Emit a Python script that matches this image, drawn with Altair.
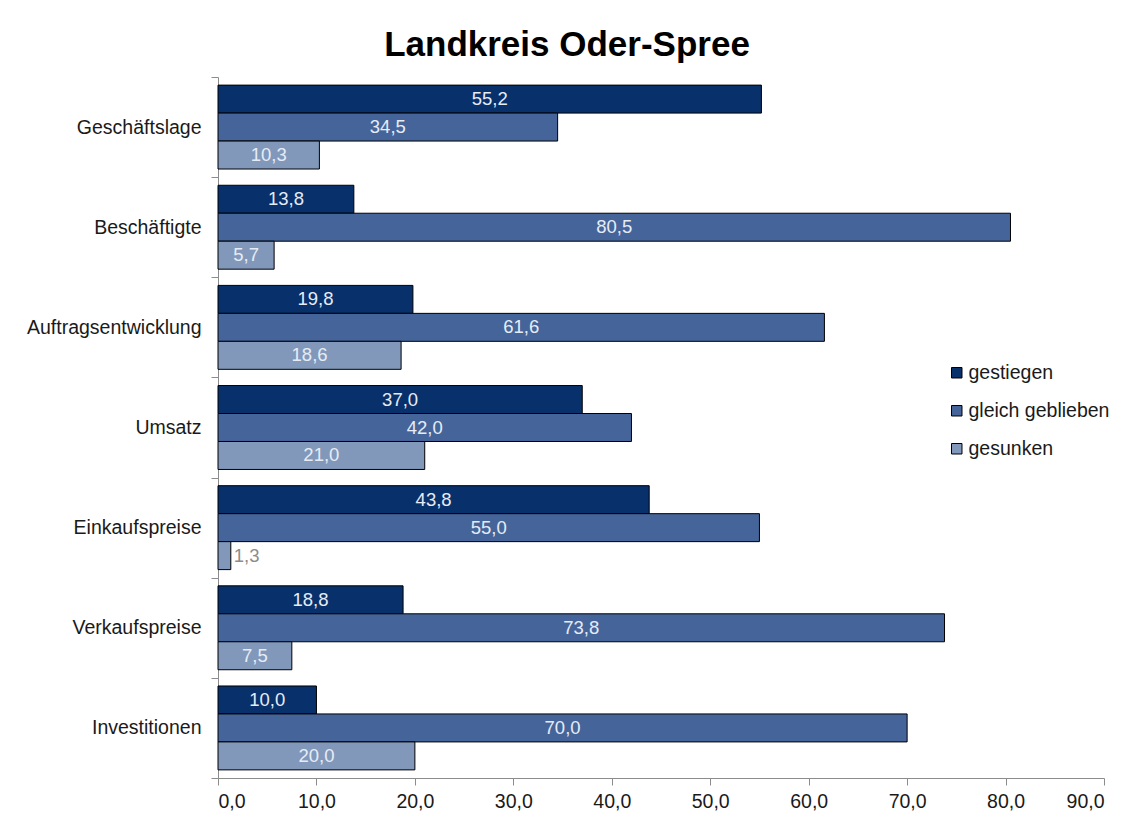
import altair as alt
import pandas as pd

categories = ["Geschäftslage", "Beschäftigte", "Auftragsentwicklung", "Umsatz",
              "Einkaufspreise", "Verkaufspreise", "Investitionen"]
series = ["gestiegen", "gleich geblieben", "gesunken"]
gestiegen = [55.2, 13.8, 19.8, 37.0, 43.8, 18.8, 10.0]
gleich = [34.5, 80.5, 61.6, 42.0, 55.0, 73.8, 70.0]
gesunken = [10.3, 5.7, 18.6, 21.0, 1.3, 7.5, 20.0]
colors = ["#08306b", "#45649a", "#8198bb"]

rows = []
for i, c in enumerate(categories):
    for s, vals in zip(series, [gestiegen, gleich, gesunken]):
        rows.append({"Kategorie": c, "Serie": s, "Wert": vals[i]})
df = pd.DataFrame(rows)

FONT = "Liberation Sans"
FS = 19.5

y_enc = alt.Y("Kategorie:N", sort=categories, title=None,
              scale=alt.Scale(paddingInner=0, paddingOuter=0),
              axis=alt.Axis(tickBand="extent", tickSize=7, labelPadding=10,
                            labelFontSize=FS, labelFont=FONT, labelColor="#1a1a1a",
                            domainColor="#8c8c8c", tickColor="#8c8c8c"))
yoff = alt.YOffset("Serie:N", sort=series,
                   scale=alt.Scale(paddingInner=0, paddingOuter=0.29))

base = alt.Chart(df).transform_calculate(
    label="replace(format(datum.Wert, '.1f'), '.', ',')",
    mid="datum.Wert / 2",
)

bars = base.mark_bar(stroke="#000000", strokeWidth=1).encode(
    x=alt.X("Wert:Q", title=None,
            scale=alt.Scale(domain=[0, 90], nice=False),
            axis=alt.Axis(values=list(range(0, 91, 10)), grid=False, tickSize=7,
                          labelExpr="replace(format(datum.value, '.1f'), '.', ',')",
                          labelFontSize=FS, labelFont=FONT, labelColor="#1a1a1a",
                          labelPadding=7, domainColor="#8c8c8c", tickColor="#8c8c8c")),
    y=y_enc,
    yOffset=yoff,
    color=alt.Color("Serie:N", sort=series,
                    scale=alt.Scale(domain=series, range=colors),
                    legend=alt.Legend(title=None, orient="none", legendX=729, legendY=286,
                                      symbolType="square", symbolSize=110,
                                      symbolStrokeColor="#000000", symbolStrokeWidth=1,
                                      labelFontSize=FS, labelFont=FONT, labelColor="#1a1a1a",
                                      labelOffset=2, rowPadding=17, padding=0)),
)

inside = base.transform_filter("datum.Wert >= 5").mark_text(
    align="center", baseline="middle", fontSize=18.5, font=FONT, color="#e6ecf5"
).encode(
    x=alt.X("mid:Q"),
    y=alt.Y("Kategorie:N", sort=categories),
    yOffset=yoff,
    text="label:N",
)

outside = base.transform_filter("datum.Wert < 5").mark_text(
    align="left", baseline="middle", fontSize=18.5, font=FONT, color="#8c8c8c", dx=3
).encode(
    x=alt.X("Wert:Q"),
    y=alt.Y("Kategorie:N", sort=categories),
    yOffset=yoff,
    text="label:N",
)

chart = alt.layer(bars, inside, outside).properties(
    width=886, height=701,
    background="#ffffff",
    title=alt.TitleParams("Landkreis Oder-Spree", fontSize=35, font=FONT,
                          fontWeight="bold", color="#000000", anchor="middle",
                          dx=-94, offset=4),
    autosize=alt.AutoSizeParams(type="none"),
    padding={"left": 218, "top": 77, "right": 20, "bottom": 40},
).configure_view(strokeWidth=0)

chart.save("out.html", embed_options={"renderer": "svg", "actions": False})
